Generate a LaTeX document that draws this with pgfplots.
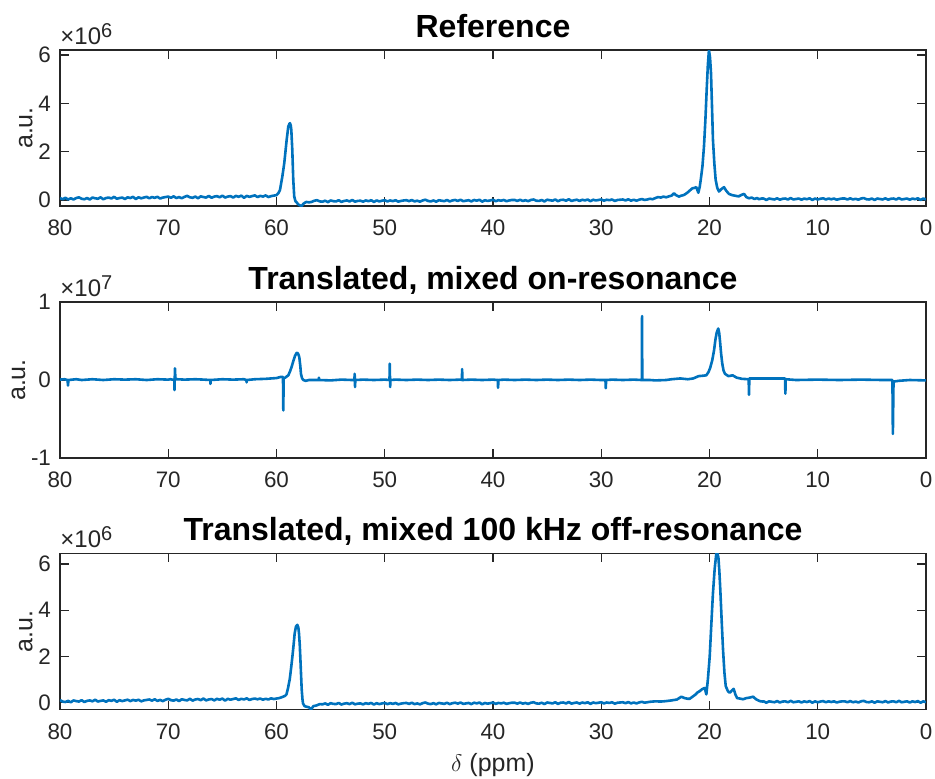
\documentclass[border=0pt]{standalone}
\usepackage{fontspec}
\setmainfont{Liberation Sans}
\usepackage{pgfplots}
\pgfplotsset{compat=1.18}
\definecolor{mblue}{RGB}{0,114,189}
\definecolor{axgray}{RGB}{38,38,38}
\pgfplotsset{
  spec/.style={
    width=433pt, height=78pt, scale only axis,
    anchor=north west,
    x dir=reverse, xmin=0, xmax=80, xtick={0,10,...,80},
    xtick pos=both, ytick pos=both,
    tick align=inside, major tick length=4.3pt,
    minor tick num=0,
    axis line style={axgray, line width=0.6pt},
    every tick/.style={axgray, line width=0.6pt},
    tick label style={font=\fontsize{11.2}{13}\selectfont, text=axgray},
    xticklabel style={yshift=-3.5pt},
    yticklabel style={xshift=-1pt},
    /pgf/number format/assume math mode=true,
    ylabel={a.u.},
    label style={font=\fontsize{12.5}{14}\selectfont, text=axgray},
    ylabel style={yshift=-4pt},
    title style={font=\bfseries\fontsize{16}{18}\selectfont, text=black, at={(0.5,1)}, anchor=base, yshift=0.5pt},
  },
  spl/.style={mblue, line width=1.3pt, line join=round, no markers},
}
\newcommand{\expo}[1]{{\fontsize{12}{13}\selectfont\color{axgray}×10\raisebox{0.55ex}{\fontsize{10}{11}\selectfont #1}}}
\begin{document}
\begin{tikzpicture}
\useasboundingbox (-30pt,25pt) rectangle (437.5pt,-364pt);
% ---------------- Panel 1
\begin{axis}[spec, name=ax1, at={(0,0)}, ymin=-0.25, ymax=6.21, ytick={0,2,4,6}, title={Reference}]
\addplot[spl] coordinates {
(80,0.08)(79.75,0.03)(79.5,0.09)(79.25,0.02)(79,0.07)(78.75,0.02)(78.5,0.08)(78.25,0.11)(78,0.05)(77.75,0.03)
(77.5,0.08)(77.25,0.02)(77,0.10)(76.75,0.07)(76.5,0.05)(76.25,0.11)(76,0.03)(75.75,0.08)(75.5,0.10)(75.25,0.06)
(75,0.13)(74.75,0.05)(74.5,0.08)(74.25,0.10)(74,0.04)(73.75,0.11)(73.5,0.08)(73.25,0.13)(73,0.04)(72.75,0.11)
(72.5,0.07)(72.25,0.10)(72,0.13)(71.75,0.07)(71.5,0.12)(71.25,0.09)(71,0.13)(70.75,0.06)(70.5,0.10)(70.25,0.12)
(70,0.14)(69.75,0.09)(69.5,0.15)(69.25,0.08)(69,0.12)(68.75,0.07)(68.5,0.13)(68.25,0.17)(68,0.11)(67.75,0.09)
(67.5,0.14)(67.25,0.07)(67,0.15)(66.75,0.12)(66.5,0.10)(66.25,0.17)(66,0.09)(65.75,0.14)(65.5,0.16)(65.25,0.11)
(65,0.18)(64.75,0.10)(64.5,0.14)(64.25,0.16)(64,0.10)(63.75,0.17)(63.5,0.13)(63.25,0.18)(63,0.09)(62.75,0.17)
(62.5,0.13)(62.25,0.16)(62,0.19)(61.75,0.12)(61.5,0.17)(61.25,0.14)(61,0.19)(60.75,0.12)(60.5,0.16)(60.25,0.18)
(60,0.20)(59.83,0.28)(59.68,0.41)(59.46,0.97)(59.28,1.53)(59.06,2.49)(58.91,3.04)(58.8,3.16)(58.75,3.18)(58.68,3.08)
(58.63,2.90)(58.54,2.07)(58.45,0.83)(58.36,0.14)(58.25,-0.05)(58.14,-0.10)(58.0,-0.18)(57.85,-0.22)(57.68,-0.25)(57.5,-0.15)
(57.25,-0.08)(57,-0.10)
(56.75,-0.08)(56.5,-0.03)(56.25,-0.01)(56,-0.06)(55.75,-0.07)(55.5,-0.03)(55.25,-0.09)(55,-0.02)(54.75,-0.05)(54.5,-0.06)
(54.25,-0.01)(54,-0.08)(53.75,-0.04)(53.5,-0.02)(53.25,-0.06)(53,0)(52.75,-0.07)(52.5,-0.04)(52.25,-0.03)(52,-0.07)
(51.75,-0.02)(51.5,-0.05)(51.25,-0.01)(51,-0.08)(50.75,-0.02)(50.5,-0.06)(50.25,-0.03)(50,-0.01)(49.75,-0.06)(49.5,-0.02)
(49.25,-0.05)(49,-0.01)(48.75,-0.07)(48.5,-0.04)(48.25,-0.02)(48,-0.01)(47.75,-0.05)(47.5,0)(47.25,-0.06)(47,-0.03)
(46.75,-0.07)(46.5,-0.02)(46.25,0.01)(46,-0.04)(45.75,-0.06)(45.5,-0.02)(45.25,-0.07)(45,-0.01)(44.75,-0.03)(44.5,-0.05)
(44.25,0)(44,-0.06)(43.75,-0.02)(43.5,0)(43.25,-0.04)(43,0.01)(42.75,-0.05)(42.5,-0.03)(42.25,-0.01)(42,-0.06)
(41.75,0)(41.5,-0.03)(41.25,0.01)(41,-0.07)(40.75,-0.01)(40.5,-0.04)(40.25,-0.02)(40,0.01)(39.75,-0.05)(39.5,-0.01)
(39.25,-0.03)(39,0)(38.75,-0.05)(38.5,-0.02)(38.25,0)(38,0)(37.75,-0.04)(37.5,0.01)(37.25,-0.04)(37,-0.01)
(36.75,-0.05)(36.5,0)(36.25,0.02)(36,-0.03)(35.75,-0.04)(35.5,0)(35.25,-0.06)(35,0.01)(34.75,-0.01)(34.5,-0.03)
(34.25,0.02)(34,-0.05)(33.75,0)(33.5,0.01)(33.25,-0.03)(33,0.03)(32.75,-0.04)(32.5,-0.01)(32.25,0.01)(32,-0.04)
(31.75,0.01)(31.5,-0.02)(31.25,0.02)(31,-0.05)(30.75,0.01)(30.5,-0.02)(30.25,0)(30,0.02)(29.75,-0.03)(29.5,0.01)
(29.25,-0.01)(29,0.02)(28.75,-0.04)(28.5,0)(28.25,0.01)(28,0.02)(27.75,-0.02)(27.5,0.03)(27.25,-0.03)(27,0.01)
(26.75,-0.03)(26.5,0.01)(26.25,0.04)(26,0)
(25.75,0.02)(25.5,0.05)(25.25,0.03)(25,0.08)(24.75,0.12)(24.5,0.10)(24.25,0.14)(24,0.11)(23.75,0.15)(23.5,0.18)
(23.28,0.28)(23.1,0.20)(22.82,0.14)(22.6,0.18)(22.4,0.20)(22.2,0.25)(22.0,0.32)(21.8,0.40)(21.59,0.48)(21.4,0.50)
(21.22,0.53)(21.03,0.30)(20.9,0.55)(20.81,0.83)(20.65,1.40)(20.51,2.21)(20.38,3.30)(20.26,4.56)(20.15,5.60)(20.05,6.21)
(19.95,5.90)(19.86,5.25)(19.77,3.90)(19.68,2.49)(19.55,1.50)(19.43,0.83)(19.28,0.50)(19.12,0.35)(18.9,0.45)(18.66,0.53)
(18.45,0.38)(18.2,0.25)(17.9,0.20)(17.58,0.17)(17.3,0.15)(17.0,0.22)(16.8,0.25)(16.6,0.12)(16.35,0.07)(16.1,0.10)
(15.85,0.04)(15.6,0.08)(15.43,0.03)(15.2,0.06)
(15,0.06)(14.75,0)(14.5,0.06)(14.25,0.04)(14,0.02)(13.75,0.07)(13.5,0.01)(13.25,0.05)(13,0.06)(12.75,0.02)
(12.5,0.08)(12.25,0.02)(12,0.04)(11.75,0.06)(11.5,0.01)(11.25,0.06)(11,0.03)(10.75,0.07)(10.5,0)(10.25,0.06)
(10,0.02)(9.75,0.05)(9.5,0.07)(9.25,0.02)(9,0.06)(8.75,0.03)(8.5,0.06)(8.25,0.01)(8,0.04)(7.75,0.06)
(7.5,0.06)(7.25,0.02)(7,0.07)(6.75,0.02)(6.5,0.05)(6.25,0.01)(6,0.06)(5.75,0.08)(5.5,0.03)(5.25,0.02)
(5,0.06)(4.75,0)(4.5,0.06)(4.25,0.04)(4,0.02)(3.75,0.07)(3.5,0.01)(3.25,0.05)(3,0.06)(2.75,0.02)
(2.5,0.08)(2.25,0.02)(2,0.04)(1.75,0.06)(1.5,0.01)(1.25,0.06)(1,0.03)(0.75,0.07)(0.5,0)(0.25,0.06)(0,0.02)
};
\end{axis}
\node[anchor=south west, inner sep=0pt, yshift=2.5pt] at (ax1.north west) {\expo{6}};
% ---------------- Panel 2
\begin{axis}[spec, name=ax2, at={(0,-126pt)}, ymin=-1, ymax=1, ytick={-1,0,1}, title={Translated, mixed on-resonance}]
\addplot[spl] coordinates {
(80,0.005)(79.6,0.01)(79.3,0.0)(79.26,-0.07)(79.22,0.0)(78.5,0.01)(78,0.0)(77,0.01)(76,0.0)(75,0.01)
(74,0.005)(73,0.01)(72,0.0)(71,0.01)(70,0.005)(69.8,0.01)(69.44,0.0)(69.42,-0.13)(69.38,0.15)(69.34,0.02)
(69.2,0.01)(68.5,0.005)(67.5,0.01)(66.7,0.005)(66.12,0.0)(66.1,-0.05)(66.08,0.0)(65,0.01)(64,0.005)(63,0.01)
(62.78,0.0)(62.76,-0.03)(62.74,0.0)(62,0.01)(61,0.015)(60.5,0.02)(60,0.025)(59.6,0.04)(59.4,0.04)(59.37,-0.39)
(59.34,0.02)(59.2,0.03)(58.91,0.06)(58.75,0.11)(58.6,0.17)(58.45,0.24)(58.29,0.31)(58.15,0.345)(58.08,0.35)(57.98,0.33)
(57.89,0.29)(57.8,0.18)(57.74,0.08)(57.63,0.02)(57.52,0)(57.3,-0.01)(57,0)(56.1,0)(56.08,0.03)(56.06,0)
(55,-0.005)(54,0.005)(53,0)(52.8,0)(52.78,0.08)(52.74,-0.09)(52.72,0)(52,0.005)(51,0)(50,0.005)
(49.56,0)(49.54,0.21)(49.5,-0.09)(49.48,0)(49,0.005)(48,0)(47,0.005)(46,0)(45,0.005)(44,0)
(43,0.005)(42.87,0)(42.85,0.14)(42.83,0)(42,0.005)(41,0)(40,0.005)(39.56,0)(39.53,-0.1)(39.5,0)
(39,0.005)(38,0)(37,0.005)(36,0)(35,0.005)(34,0)(33,0.005)(32,0)(31,0.005)(30,0)
(29.61,0)(29.58,-0.105)(29.55,0)(29,0.005)(28,0)(27,0.005)(26.25,0)(26.23,0.82)(26.21,0)(25.5,0)
(25,-0.005)(24,0)(23.5,0.01)(22.7,0.02)(22,0.01)(21.5,0.02)(21,0.05)(20.6,0.055)(20.3,0.06)(20.1,0.1)
(19.95,0.15)(19.75,0.25)(19.58,0.38)(19.45,0.52)(19.33,0.61)(19.19,0.66)(19.1,0.60)(19.03,0.50)(18.92,0.33)(18.82,0.21)
(18.7,0.12)(18.57,0.08)(18.26,0.05)(18.05,0.055)(17.86,0.06)(17.49,0.03)(17,0.015)(16.38,0.01)(16.35,-0.19)(16.32,0.02)
(15.5,0.02)(14.5,0.02)(13.5,0.02)(13.02,0.02)(12.99,-0.175)(12.96,0.01)(12,0.0)(10,0.005)(8,0)(6,0.005)
(4,0)(3.1,0)(3.06,-0.69)(3.0,-0.02)(2.5,-0.01)(1.5,0)(0,-0.005)
};
\end{axis}
\node[anchor=south west, inner sep=0pt, yshift=2.5pt] at (ax2.north west) {\expo{7}};
% ---------------- Panel 3
\begin{axis}[spec, name=ax3, at={(0,-251.7pt)}, ymin=-0.29, ymax=6.46, ytick={0,2,4,6}, title={Translated, mixed 100 kHz off-resonance}, xlabel={$\delta$ (ppm)}]
\addplot[spl] coordinates {
(80,0.11)(79.75,0.05)(79.5,0.03)(79.25,0.08)(79,0.02)(78.75,0.10)(78.5,0.07)(78.25,0.05)(78,0.11)(77.75,0.03)
(77.5,0.08)(77.25,0.10)(77,0.06)(76.75,0.13)(76.5,0.05)(76.25,0.08)(76,0.10)(75.75,0.04)(75.5,0.11)(75.25,0.08)
(75,0.13)(74.75,0.04)(74.5,0.11)(74.25,0.07)(74,0.10)(73.75,0.13)(73.5,0.07)(73.25,0.12)(73,0.09)(72.75,0.13)
(72.5,0.06)(72.25,0.10)(72,0.12)(71.75,0.14)(71.5,0.09)(71.25,0.15)(71,0.08)(70.75,0.12)(70.5,0.07)(70.25,0.13)
(70,0.17)(69.75,0.11)(69.5,0.09)(69.25,0.14)(69,0.07)(68.75,0.15)(68.5,0.12)(68.25,0.10)(68,0.17)(67.75,0.09)
(67.5,0.14)(67.25,0.16)(67,0.11)(66.75,0.18)(66.5,0.10)(66.25,0.14)(66,0.16)(65.75,0.10)(65.5,0.17)(65.25,0.13)
(65,0.18)(64.75,0.09)(64.5,0.17)(64.25,0.13)(64,0.16)(63.75,0.19)(63.5,0.12)(63.25,0.17)(63,0.14)(62.75,0.19)
(62.5,0.12)(62.25,0.16)(62,0.18)(61.75,0.15)(61.5,0.18)(61.25,0.13)(61,0.17)(60.75,0.14)(60.5,0.19)(60.25,0.16)
(60,0.18)(59.75,0.20)(59.5,0.24)(59.39,0.26)(59.2,0.30)(59.08,0.36)(58.95,0.60)(58.78,1.00)(58.65,1.50)(58.53,2.00)
(58.42,2.50)(58.32,3.00)(58.2,3.30)(58.07,3.37)(57.98,3.25)(57.92,3.00)(57.85,2.50)(57.79,1.87)(57.72,1.10)(57.67,0.57)
(57.6,0.15)(57.55,-0.03)(57.4,-0.15)(57.24,-0.17)(57.0,-0.20)(56.8,-0.29)(56.6,-0.15)(56.32,-0.12)
(56,-0.06)(55.75,-0.07)(55.5,-0.03)(55.25,-0.09)(55,-0.02)(54.75,-0.05)(54.5,-0.06)
(54.25,-0.01)(54,-0.08)(53.75,-0.04)(53.5,-0.02)(53.25,-0.06)(53,0)(52.75,-0.07)(52.5,-0.04)(52.25,-0.03)(52,-0.07)
(51.75,-0.02)(51.5,-0.05)(51.25,-0.01)(51,-0.08)(50.75,-0.02)(50.5,-0.06)(50.25,-0.03)(50,-0.01)(49.75,-0.06)(49.5,-0.02)
(49.25,-0.05)(49,-0.01)(48.75,-0.07)(48.5,-0.04)(48.25,-0.02)(48,-0.01)(47.75,-0.05)(47.5,0)(47.25,-0.06)(47,-0.03)
(46.75,-0.07)(46.5,-0.02)(46.25,0.01)(46,-0.04)(45.75,-0.06)(45.5,-0.02)(45.25,-0.07)(45,-0.01)(44.75,-0.03)(44.5,-0.05)
(44.25,0)(44,-0.06)(43.75,-0.02)(43.5,0)(43.25,-0.04)(43,0.01)(42.75,-0.05)(42.5,-0.03)(42.25,-0.01)(42,-0.06)
(41.75,0)(41.5,-0.03)(41.25,0.01)(41,-0.07)(40.75,-0.01)(40.5,-0.04)(40.25,-0.02)(40,0.01)(39.75,-0.05)(39.5,-0.01)
(39.25,-0.03)(39,0)(38.75,-0.05)(38.5,-0.02)(38.25,0)(38,0)(37.75,-0.04)(37.5,0.01)(37.25,-0.04)(37,-0.01)
(36.75,-0.05)(36.5,0)(36.25,0.02)(36,-0.03)(35.75,-0.04)(35.5,0)(35.25,-0.06)(35,0.01)(34.75,-0.01)(34.5,-0.03)
(34.25,0.02)(34,-0.05)(33.75,0)(33.5,0.01)(33.25,-0.03)(33,0.03)(32.75,-0.04)(32.5,-0.01)(32.25,0.01)(32,-0.04)
(31.75,0.01)(31.5,-0.02)(31.25,0.02)(31,-0.05)(30.75,0.01)(30.5,-0.02)(30.25,0)(30,0.02)(29.75,-0.03)(29.5,0.01)
(29.25,-0.01)(29,0.02)(28.75,-0.04)(28.5,0)(28.25,0.01)(28,0.02)(27.75,-0.02)(27.5,0.03)(27.25,-0.03)(27,0.01)
(26.75,-0.03)(26.5,0.01)(26.25,0.04)(26,0)
(25.5,0.04)(25,0.06)(24.5,0.05)(24,0.07)(23.5,0.10)(23,0.14)(22.6,0.26)(22.3,0.20)(22.0,0.17)(21.83,0.17)
(21.6,0.25)(21.3,0.35)(21.1,0.45)(20.9,0.50)(20.7,0.58)(20.44,0.64)(20.29,0.36)(20.15,1.00)(19.98,2.00)(19.83,3.40)
(19.68,4.74)(19.52,5.80)(19.37,6.46)(19.27,6.46)(19.18,6.30)(19.09,5.70)(19.0,4.88)(18.87,3.50)(18.75,2.30)(18.62,1.30)
(18.5,0.72)(18.3,0.50)(18.13,0.43)(17.95,0.52)(17.77,0.60)(17.6,0.35)(17.45,0.20)(17.2,0.18)(16.9,0.15)(16.6,0.20)
(16.3,0.22)(15.97,0.26)(15.7,0.15)(15.36,0.07)(15.1,0.05)
(15,0.06)(14.75,0)(14.5,0.06)(14.25,0.04)(14,0.02)(13.75,0.07)(13.5,0.01)(13.25,0.05)(13,0.06)(12.75,0.02)
(12.5,0.08)(12.25,0.02)(12,0.04)(11.75,0.06)(11.5,0.01)(11.25,0.06)(11,0.03)(10.75,0.07)(10.5,0)(10.25,0.06)
(10,0.02)(9.75,0.05)(9.5,0.07)(9.25,0.02)(9,0.06)(8.75,0.03)(8.5,0.06)(8.25,0.01)(8,0.04)(7.75,0.06)
(7.5,0.06)(7.25,0.02)(7,0.07)(6.75,0.02)(6.5,0.05)(6.25,0.01)(6,0.06)(5.75,0.08)(5.5,0.03)(5.25,0.02)
(5,0.06)(4.75,0)(4.5,0.06)(4.25,0.04)(4,0.02)(3.75,0.07)(3.5,0.01)(3.25,0.05)(3,0.06)(2.75,0.02)
(2.5,0.08)(2.25,0.02)(2,0.04)(1.75,0.06)(1.5,0.01)(1.25,0.06)(1,0.03)(0.75,0.07)(0.5,0)(0.25,0.06)(0,0.02)
};
\end{axis}
\node[anchor=south west, inner sep=0pt, yshift=2.5pt] at (ax3.north west) {\expo{6}};
\end{tikzpicture}
\end{document}
